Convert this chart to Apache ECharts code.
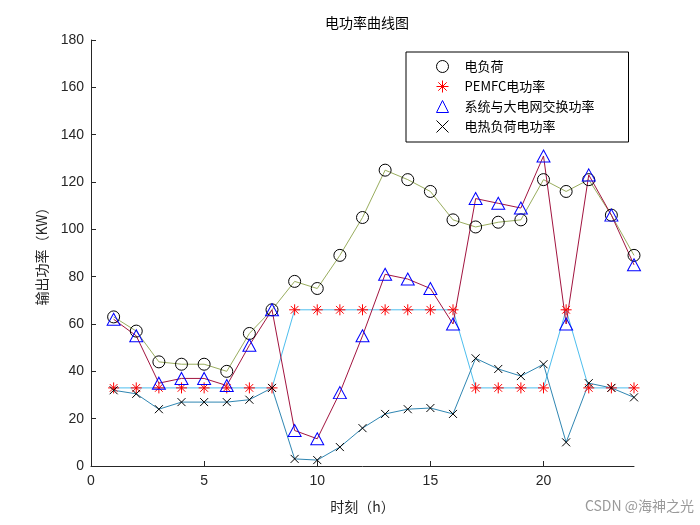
<!DOCTYPE html>
<html>
<head>
<meta charset="utf-8">
<script src="https://cdn.jsdelivr.net/npm/echarts@6/dist/echarts.min.js"></script>
<style>html,body{margin:0;padding:0;background:#fff}#c{width:700px;height:525px}</style>
</head>
<body>
<div id="c"></div>
<script>
const hours = [1,2,3,4,5,6,7,8,9,10,11,12,13,14,15,16,17,18,19,20,21,22,23,24];
const loadPower = [63,57,44,43,43,40,56,66,78,75,89,105,125,121,116,104,101,103,104,121,116,121,106,89];
const pemfcPower = [33,33,33,33,33,33,33,33,66,66,66,66,66,66,66,66,33,33,33,33,66,33,33,33];
const gridPower = [62,55,35,37,37,34,51,66,15,11.5,31,55,81,79,75,60,113,111,109,131,60,123,106,85];
const heatPower = [32,30.5,24,27,27,27,28,33,3,2.5,8,16,22,24,24.5,22,45.5,41,38,43,10,35,33,29];
const seriesNames = ['电负荷','PEMFC电功率','系统与大电网交换功率','电热负荷电功率'];
const xTicks = [0,5,10,15,20];

const pair = arr => hours.map((h,i)=>[h,arr[i]]);
const cjk = '"Noto Sans CJK SC", sans-serif';
const num = '"Liberation Sans", Arial, sans-serif';
const starPath = 'path://M0,-1L0,1M-1,0L1,0M-0.7,-0.7L0.7,0.7M-0.7,0.7L0.7,-0.7';
const xPath = 'path://M-1,-1L1,1M-1,1L1,-1';

const chart = echarts.init(document.getElementById('c'));
chart.setOption({
  animation:false,
  backgroundColor:'#fff',
  title:{text:'电功率曲线图',top:11,left:362,textAlign:'center',
    textStyle:{fontFamily:cjk,fontSize:14,fontWeight:'normal',color:'#000'}},
  grid:{left:91,right:66,top:40,bottom:59},
  legend:{
    orient:'vertical',left:406,top:52,padding:[8,34,9,30],itemGap:7,
    itemWidth:12,itemHeight:12,
    backgroundColor:'#fff',borderColor:'#000',borderWidth:1,borderRadius:0,
    itemStyle:{borderWidth:1},
    textStyle:{fontFamily:cjk,fontSize:13,color:'#000',padding:[0,0,0,11]},
    data:[
      {name:seriesNames[0],icon:'circle'},
      {name:seriesNames[1],icon:starPath},
      {name:seriesNames[2],icon:'triangle'},
      {name:seriesNames[3],icon:xPath}
    ]
  },
  xAxis:{type:'value',min:0,max:24,interval:5,
    name:'时刻（h）',nameLocation:'middle',nameGap:34,
    nameTextStyle:{fontFamily:cjk,fontSize:14,color:'#262626'},
    axisLine:{lineStyle:{color:'#262626'}},
    axisTick:{inside:true,length:5,customValues:xTicks,lineStyle:{color:'#262626'}},
    axisLabel:{customValues:xTicks,fontFamily:num,fontSize:14,color:'#262626',margin:8},
    splitLine:{show:false}},
  yAxis:{type:'value',min:0,max:180,interval:20,
    name:'输出功率（KW）',nameLocation:'middle',nameGap:42,
    nameTextStyle:{fontFamily:cjk,fontSize:14,color:'#262626'},
    axisLine:{show:true,lineStyle:{color:'#262626'}},
    axisTick:{show:true,inside:true,length:5,lineStyle:{color:'#262626'}},
    axisLabel:{fontFamily:num,fontSize:14,color:'#262626',margin:7},
    splitLine:{show:false}},
  graphic:[{type:'text',right:6,top:499,style:{text:'CSDN @海神之光',fontFamily:cjk,fontSize:14,fill:'#9a9a9a'}}],
  series:[
    {name:seriesNames[0],type:'line',data:pair(loadPower),symbol:'circle',symbolSize:12,
      lineStyle:{color:'#99ad5e',width:1},itemStyle:{color:'transparent',borderColor:'#000',borderWidth:1}},
    {name:seriesNames[1],type:'line',data:pair(pemfcPower),symbol:starPath,symbolSize:11,
      lineStyle:{color:'#4dbeee',width:1},itemStyle:{color:'transparent',borderColor:'#ff0000',borderWidth:1}},
    {name:seriesNames[2],type:'line',data:pair(gridPower),symbol:'triangle',symbolSize:[13,12],
      lineStyle:{color:'#a2143f',width:1},itemStyle:{color:'transparent',borderColor:'#0000ff',borderWidth:1}},
    {name:seriesNames[3],type:'line',data:pair(heatPower),symbol:xPath,symbolSize:8,
      lineStyle:{color:'#2f86b2',width:1},itemStyle:{color:'transparent',borderColor:'#000',borderWidth:1}}
  ]
});
</script>
</body>
</html>
